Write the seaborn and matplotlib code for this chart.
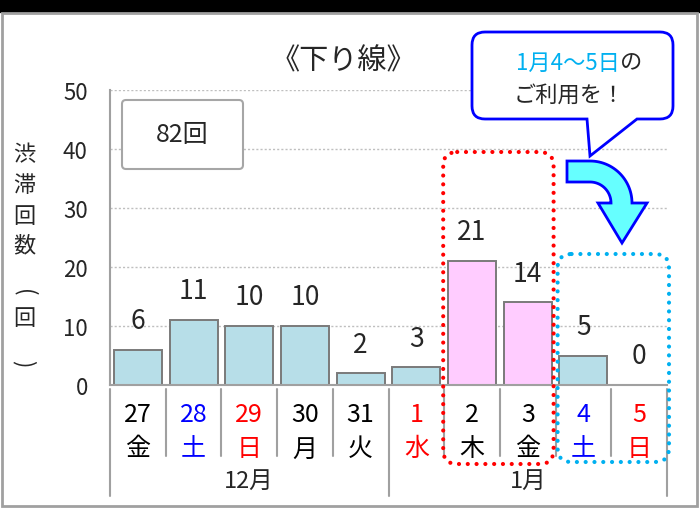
import matplotlib
matplotlib.use("Agg")
import matplotlib.pyplot as plt
import numpy as np
import pandas as pd
import seaborn as sns
from matplotlib.patches import FancyBboxPatch, PathPatch, Polygon, Rectangle
from matplotlib.path import Path

# --- data ---
days = ["27", "28", "29", "30", "31", "1", "2", "3", "4", "5"]
weekdays = ["金", "土", "日", "月", "火", "水", "木", "金", "土", "日"]
day_kinds = ["平日", "土曜", "休日", "平日", "平日", "休日", "平日", "平日", "土曜", "休日"]
months = ["12月"] * 5 + ["1月"] * 5
jam_counts = [6, 11, 10, 10, 2, 3, 21, 14, 5, 0]
peak_days = ["2", "3"]
suggest_days = ["4", "5"]
y_ticks = [0, 10, 20, 30, 40, 50]
title = "《下り線》"
ylabel_chars = ["渋", "滞", "回", "数", "(", "回", ")"]
callout_blue = "1月4～5日"
callout_black = "の"
callout_line2 = "ご利用を！"

# --- style ---
KIND_COLORS = {"平日": "black", "土曜": "#0000FF", "休日": "#FF0000"}
BAR_NORMAL = "#B7DEE8"
BAR_PEAK = "#FFCCFF"
AXIS_GRAY = "#A0A0A0"

sns.set_style("white")
plt.rcParams["font.family"] = ["Noto Sans CJK JP", "DejaVu Sans"]

fig = plt.figure(figsize=(7, 5.1), dpi=100)
fig.patch.set_facecolor("white")
ax = fig.add_axes([110 / 700, 1 - 386 / 510, 557 / 700, 295 / 510])

df = pd.DataFrame({"day": days, "count": jam_counts})
bar_colors = [BAR_PEAK if d in peak_days else BAR_NORMAL for d in days]
sns.barplot(data=df, x="day", y="count", hue="day", palette=bar_colors,
            order=days, width=0.86, saturation=1, edgecolor="#7A7A7A",
            linewidth=1.4, legend=False, ax=ax)

ax.set_xlim(-0.5, len(days) - 0.5)
ax.set_ylim(0, 50)
ax.set_yticks(y_ticks)
ax.set_xlabel("")
ax.set_ylabel("")
ax.tick_params(axis="x", length=0, labelbottom=False)
ax.tick_params(axis="y", length=6, width=1.2, color=AXIS_GRAY, pad=10, labelsize=16)
ax.grid(axis="y", color="#BFBFBF", linestyle=(0, (1.5, 1.5)), linewidth=1)
ax.set_axisbelow(True)
for side in ["top", "right"]:
    ax.spines[side].set_visible(False)
for side in ["left", "bottom"]:
    ax.spines[side].set_color(AXIS_GRAY)
    ax.spines[side].set_linewidth(1.5)

# value labels
for i, v in enumerate(jam_counts):
    ax.annotate(str(v), (i, v), xytext=(0, 21), textcoords="offset points",
                ha="center", va="center", fontsize=19)

# category labels (day, weekday, month)
xt = ax.get_xaxis_transform()
for i, (d, w, k) in enumerate(zip(days, weekdays, day_kinds)):
    ax.text(i, -0.098, d, transform=xt, ha="center", va="center",
            fontsize=18, color=KIND_COLORS[k])
    ax.text(i, -0.215, w, transform=xt, ha="center", va="center",
            fontsize=18, color=KIND_COLORS[k])

month_names = list(dict.fromkeys(months))
for m in month_names:
    idx = [i for i, mm in enumerate(months) if mm == m]
    ax.text(np.mean(idx), -0.325, m, transform=xt, ha="center", va="center", fontsize=17)

boundaries = [-0.5, len(days) - 0.5] + [i + 0.5 for i in range(len(months) - 1)
                                        if months[i] != months[i + 1]]
for i in range(len(days) + 1):
    x = i - 0.5
    y_end = -0.376 if x in boundaries else -0.24
    ax.plot([x, x], [-0.014, y_end], transform=xt, color=AXIS_GRAY,
            lw=1.5, clip_on=False)

# --- overlay in pixel coordinates ---
ov = fig.add_axes([0, 0, 1, 1], zorder=5)
ov.set_xlim(0, 700)
ov.set_ylim(510, 0)
ov.axis("off")
ov.patch.set_alpha(0)


def to_px(x, y=0):
    return ov.transData.inverted().transform(ax.transData.transform((x, y)))


ov.add_patch(Rectangle((0, 0), 700, 13, color="black"))
ov.add_patch(Rectangle((2, 14), 695, 493, fill=False, edgecolor=AXIS_GRAY, lw=2))

ov.text(343, 61, title, ha="center", va="center", fontsize=21)

# vertical axis title, one character per line; brackets turned sideways
for ch, yy in zip(ylabel_chars, [155, 186, 217, 246, 293, 319, 364]):
    rot = -90 if ch in "()" else 0
    ov.text(24, yy, ch, ha="center", va="center", fontsize=16, rotation=rot,
            rotation_mode="anchor")

ov.add_patch(FancyBboxPatch((122, 101), 121, 69, boxstyle="round,pad=0,rounding_size=4",
                            fc="white", ec="#A6A6A6", lw=1.5))
ov.text(182, 135, f"{sum(jam_counts)}回", ha="center", va="center", fontsize=18)

# highlight boxes
pi = [days.index(d) for d in peak_days]
si = [days.index(d) for d in suggest_days]
rx0, rx1 = to_px(min(pi) - 0.5)[0] - 1, to_px(max(pi) + 0.5)[0] - 2
bx0, bx1 = to_px(min(si) - 0.5)[0] + 2, to_px(max(si) + 0.5)[0] + 2
for (x0, x1, y0, y1, col) in [(rx0, rx1, 153, 465, "#FF0000"),
                              (bx0, bx1, 255, 463, "#00B0F0")]:
    p = FancyBboxPatch((x0, y0), x1 - x0, y1 - y0,
                       boxstyle="round,pad=0,rounding_size=14", fill=False,
                       ec=col, lw=3, linestyle=(0, (0.01, 2.1)))
    p.set_capstyle("round")
    ov.add_patch(p)

# callout bubble
x0, x1, y0, y1, r = 472, 673, 33, 120, 13
verts = [(x0 + r, y0), (x1 - r, y0), (x1, y0), (x1, y0 + r), (x1, y1 - r), (x1, y1),
         (x1 - r, y1), (637, y1), (590, 157), (587, y1), (x0 + r, y1), (x0, y1),
         (x0, y1 - r), (x0, y0 + r), (x0, y0), (x0 + r, y0), (x0 + r, y0)]
codes = [Path.MOVETO, Path.LINETO, Path.CURVE3, Path.CURVE3, Path.LINETO, Path.CURVE3,
         Path.CURVE3, Path.LINETO, Path.LINETO, Path.LINETO, Path.LINETO, Path.CURVE3,
         Path.CURVE3, Path.LINETO, Path.CURVE3, Path.CURVE3, Path.CLOSEPOLY]
ov.add_patch(PathPatch(Path(verts, codes), fc="white", ec="#0000FF", lw=2))
ov.text(620, 63, callout_blue, ha="right", va="center", fontsize=16, color="#00B0F0")
ov.text(620, 63, callout_black, ha="left", va="center", fontsize=16)
ov.text(569, 95, callout_line2, ha="center", va="center", fontsize=16)

# curved arrow
cx, cy, ro, ri = 590, 204, 42, 21
th = np.linspace(-np.pi / 2, 0, 30)
outer = [(cx + ro * np.cos(t), cy + ro * np.sin(t)) for t in th]
inner = [(cx + ri * np.cos(t), cy + ri * np.sin(t)) for t in th[::-1]]
pts = [(567, cy - ro)] + outer + [(647, cy), (622, 244), (598, cy)] + inner + [(567, cy - ri)]
ov.add_patch(Polygon(pts, closed=True, fc="#66FFFF", ec="#0000FF", lw=2))

fig.savefig("out.png", dpi=100)
